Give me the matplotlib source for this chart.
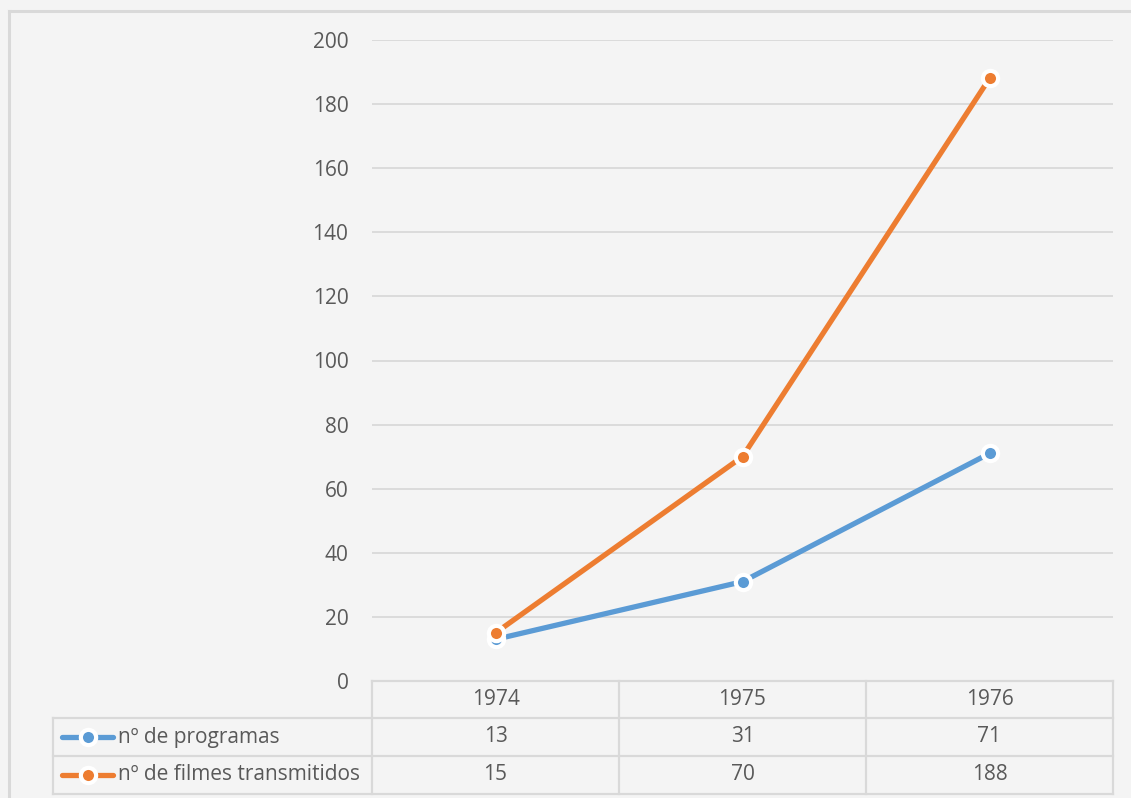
import numpy as np
import matplotlib.pyplot as plt
from matplotlib.lines import Line2D

# data
years = ["1974", "1975", "1976"]
programas = [13, 31, 71]
filmes = [15, 70, 188]
series_names = ["nº de programas", "nº de filmes transmitidos"]
series_colors = ["#5B9BD5", "#ED7D31"]
yticks = list(range(0, 201, 20))

W, H = 1131, 798
BG = "#F4F4F4"
GRID = "#D9D9D9"
TXT = "#595959"
FS = 15
plt.rcParams['font.family'] = ['Open Sans', 'DejaVu Sans']

fig = plt.figure(figsize=(W / 100, H / 100), dpi=100)
fig.patch.set_facecolor(BG)

# plot area in pixels
left, right, top, bottom = 372, 1113, 40, 681
ax = fig.add_axes([left / W, 1 - bottom / H, (right - left) / W, (bottom - top) / H])
ax.set_facecolor(BG)
ax.set_xlim(-0.5, len(years) - 0.5)
ax.set_ylim(0, 200)
ax.set_yticks(yticks)
ax.set_yticklabels([str(t) for t in yticks], fontsize=FS, color=TXT)
ax.tick_params(axis="y", length=0, pad=17)
ax.set_xticks([])
for s in ax.spines.values():
    s.set_visible(False)
ax.grid(axis="y", color=GRID, linewidth=1.3)
ax.set_axisbelow(True)

x = np.arange(len(years))
for vals, c in zip([programas, filmes], series_colors):
    ax.plot(x, vals, color=c, linewidth=3.8, solid_capstyle="round", zorder=3,
            marker="o", markersize=11, markerfacecolor=c, markeredgecolor="white",
            markeredgewidth=3, clip_on=False)

# overlay in pixel coordinates for table and frame
ov = fig.add_axes([0, 0, 1, 1], facecolor="none")
ov.set_xlim(0, W)
ov.set_ylim(H, 0)
ov.axis("off")

lw = 1.6
# outer frame
ov.plot([9, 9], [H + 5, 11], color=GRID, lw=2.2)
ov.plot([9, W + 5], [11, 11], color=GRID, lw=2.2)

# table lines
row_y = [681, 718, 756, 794]
col_x = [left + i * (right - left) / len(years) for i in range(len(years) + 1)]
tab_left = 53
ov.plot([left, right], [row_y[0], row_y[0]], color=GRID, lw=lw)
for yy in row_y[1:]:
    ov.plot([tab_left, right], [yy, yy], color=GRID, lw=lw)
for xx in col_x:
    ov.plot([xx, xx], [row_y[0], row_y[-1]], color=GRID, lw=lw)
ov.plot([tab_left, tab_left], [row_y[1], row_y[-1]], color=GRID, lw=lw)

# header row
for i, yr in enumerate(years):
    ov.text((col_x[i] + col_x[i + 1]) / 2, (row_y[0] + row_y[1]) / 2, yr,
            ha="center", va="center", fontsize=FS, color=TXT)

# data rows with legend keys
for r, (name, vals, c) in enumerate(zip(series_names, [programas, filmes], series_colors)):
    cy = (row_y[r + 1] + row_y[r + 2]) / 2
    ov.add_line(Line2D([62, 113], [cy, cy], color=c, lw=3.8, solid_capstyle="round"))
    ov.plot([88], [cy], marker="o", markersize=11, markerfacecolor=c,
            markeredgecolor="white", markeredgewidth=3)
    ov.text(118, cy, name, ha="left", va="center", fontsize=FS, color=TXT)
    for i, v in enumerate(vals):
        ov.text((col_x[i] + col_x[i + 1]) / 2, cy, str(v),
                ha="center", va="center", fontsize=FS, color=TXT)

fig.savefig("out.png", dpi=100, facecolor=BG)
